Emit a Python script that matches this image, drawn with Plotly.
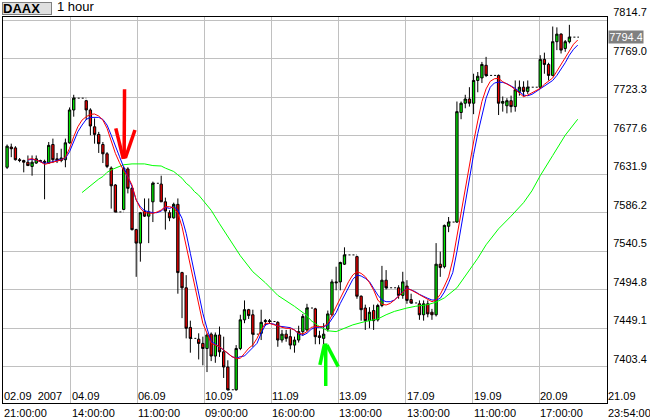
import plotly.graph_objects as go

# ---------------- data ----------------
bar_index = [0, 1, 2, 3, 4, 5, 6, 7, 8, 9, 10, 11, 12, 13, 14, 15, 16,
             19, 20, 21, 22, 23, 24, 25, 26, 28, 29, 30, 31, 32, 33, 34, 35,
             37, 38, 39, 40, 41, 42, 43, 44, 46, 47, 48, 49, 50, 51, 52, 53,
             55, 56, 57, 58, 59, 61, 62, 63, 65, 66, 67, 68, 69, 70, 71, 72,
             74, 75, 76, 77, 78, 79, 80, 81, 84, 85, 86, 87, 88, 89, 90, 91,
             94, 95, 96, 97, 99, 100, 101, 102, 103, 104, 105, 106,
             108, 109, 110, 111, 112, 113, 114, 115,
             118, 119, 120, 121, 122, 123, 124, 125,
             128, 129, 130, 131, 132, 133, 134, 135]
open_ = [7640, 7664, 7663, 7649, 7648, 7646, 7641, 7645, 7648, 7647, 7645, 7667, 7650, 7648, 7649, 7669, 7708,
         7719, 7708, 7688, 7679, 7667, 7656, 7639, 7619, 7590, 7638, 7615, 7566, 7550, 7588, 7582, 7599,
         7620, 7599, 7586, 7580, 7596, 7515, 7497, 7450, 7436, 7431, 7425, 7442, 7416, 7441, 7421, 7403,
         7376, 7425, 7459, 7471, 7465, 7443, 7457, 7458, 7456, 7435, 7442, 7439, 7429, 7435, 7445, 7447,
         7472, 7440, 7437, 7448, 7465, 7504, 7504, 7525, 7534, 7487, 7473, 7458, 7470, 7459, 7476, 7506,
         7497, 7488, 7499, 7483, 7478, 7465, 7478, 7468, 7465, 7525, 7522, 7570,
         7575, 7705, 7716, 7721, 7716, 7743, 7746, 7761,
         7749, 7716, 7713, 7719, 7712, 7730, 7735, 7730,
         7735, 7768, 7762, 7749, 7789, 7798, 7781, 7789]
high = [7667, 7668, 7665, 7651, 7649, 7654, 7654, 7654, 7649, 7649, 7670, 7674, 7657, 7662, 7674, 7711, 7726,
        7720, 7710, 7698, 7682, 7670, 7658, 7641, 7620, 7641, 7640, 7617, 7567, 7587, 7603, 7603, 7623,
        7630, 7604, 7589, 7598, 7603, 7516, 7512, 7458, 7443, 7439, 7443, 7444, 7444, 7451, 7439, 7411,
        7429, 7465, 7482, 7472, 7471, 7471, 7460, 7460, 7457, 7447, 7447, 7448, 7439, 7452, 7466, 7478,
        7473, 7446, 7455, 7470, 7507, 7522, 7528, 7545, 7535, 7488, 7477, 7474, 7477, 7478, 7523, 7518,
        7500, 7516, 7506, 7490, 7482, 7482, 7482, 7472, 7550, 7540, 7572, 7581,
        7718, 7718, 7726, 7735, 7751, 7753, 7765, 7771,
        7750, 7724, 7722, 7725, 7743, 7743, 7742, 7743,
        7773, 7776, 7764, 7807, 7806, 7799, 7791, 7809]
low = [7638, 7652, 7648, 7646, 7634, 7642, 7630, 7644, 7646, 7602, 7644, 7645, 7645, 7646, 7640, 7668, 7700,
       7696, 7678, 7668, 7657, 7645, 7639, 7591, 7587, 7589, 7609, 7565, 7510, 7528, 7581, 7550, 7575,
       7599, 7566, 7576, 7579, 7490, 7461, 7437, 7420, 7412, 7405, 7397, 7410, 7408, 7415, 7390, 7375,
       7375, 7423, 7455, 7460, 7427, 7435, 7452, 7454, 7427, 7432, 7433, 7424, 7420, 7432, 7440, 7445,
       7430, 7430, 7430, 7445, 7463, 7494, 7494, 7524, 7484, 7458, 7447, 7449, 7447, 7457, 7474, 7495,
       7484, 7484, 7478, 7478, 7459, 7458, 7462, 7459, 7463, 7510, 7520, 7563,
       7574, 7697, 7710, 7712, 7703, 7729, 7740, 7747,
       7702, 7706, 7704, 7705, 7706, 7725, 7724, 7727,
       7733, 7751, 7743, 7748, 7779, 7775, 7777, 7787]
close = [7665, 7662, 7649, 7648, 7646, 7642, 7646, 7650, 7647, 7646, 7666, 7649, 7648, 7651, 7669, 7708, 7722,
         7708, 7689, 7679, 7668, 7656, 7641, 7618, 7587, 7639, 7615, 7566, 7550, 7586, 7582, 7587, 7621,
         7599, 7588, 7580, 7596, 7515, 7497, 7449, 7437, 7431, 7425, 7441, 7416, 7441, 7421, 7403, 7376,
         7425, 7459, 7471, 7464, 7442, 7456, 7458, 7457, 7435, 7442, 7437, 7429, 7435, 7445, 7463, 7473,
         7439, 7438, 7442, 7466, 7504, 7503, 7527, 7536, 7487, 7471, 7458, 7468, 7458, 7476, 7506, 7497,
         7488, 7504, 7482, 7479, 7465, 7478, 7466, 7465, 7525, 7521, 7571, 7575,
         7706, 7716, 7721, 7716, 7743, 7748, 7762, 7749,
         7716, 7718, 7719, 7712, 7732, 7735, 7730, 7735,
         7768, 7762, 7749, 7789, 7798, 7779, 7789, 7794.4]

# short moving averages (red = faster, blue = slower), one value per bar slot
ma_index = list(range(5, 138))
ma_red = [7649.4, 7650.2, 7648.6, 7646.6, 7643.4, 7644.6, 7645.8, 7647.4, 7648.6, 7651.8,
          7662.4, 7676.3, 7688.1, 7696.0, 7700.0, 7702.8, 7703.2, 7700.8, 7696.0, 7686.2,
          7672.3, 7656.5, 7645.4, 7635.9, 7628.8, 7618.9, 7601.1, 7591.2, 7586.1, 7585.3,
          7585.3, 7586.9, 7589.3, 7593.2, 7593.2, 7592.0, 7585.3, 7569.5, 7545.8, 7522.0,
          7498.3, 7474.6, 7454.8, 7443.0, 7431.1, 7429.1, 7427.1, 7423.2, 7419.2, 7415.3,
          7413.3, 7413.3, 7419.2, 7425.2, 7429.1, 7437.0, 7446.9, 7454.8, 7454.8, 7452.8,
          7451.7, 7450.1, 7448.9, 7448.9, 7446.9, 7443.0, 7442.2, 7444.9, 7450.1, 7450.9,
          7450.9, 7450.9, 7454.8, 7464.7, 7474.6, 7486.4, 7494.4, 7504.3, 7512.2, 7516.1,
          7514.1, 7510.2, 7503.1, 7494.4, 7482.5, 7477.4, 7476.6, 7478.5, 7482.5, 7487.3,
          7492.0, 7496.0, 7494.4, 7491.6, 7488.4, 7486.1, 7483.7, 7480.5, 7482.5, 7489.2,
          7499.0, 7510.0, 7530.0, 7558.0, 7588.0, 7618.0, 7646.0, 7670.0, 7695.0, 7718.0,
          7733.0, 7742.0, 7745.0, 7745.5, 7741.5, 7739.2, 7736.0, 7732.1, 7727.3, 7723.7,
          7725.7, 7728.1, 7730.5, 7733.6, 7738.4, 7742.0, 7746.0, 7754.0, 7762.0, 7770.0,
          7779.0, 7786.0, 7791.0]
ma_blue = [7648.6, 7649.4, 7648.6, 7646.6, 7644.6, 7645.4, 7646.6, 7647.4, 7648.6, 7650.6,
           7658.5, 7670.3, 7682.2, 7690.1, 7696.8, 7699.2, 7699.2, 7699.2, 7696.8, 7690.1,
           7678.2, 7664.4, 7652.5, 7639.9, 7628.8, 7617.0, 7601.1, 7593.2, 7588.5, 7587.3,
           7586.1, 7586.1, 7588.1, 7592.4, 7591.2, 7593.2, 7589.3, 7579.4, 7561.6, 7537.9,
           7514.1, 7490.4, 7466.7, 7448.9, 7433.1, 7430.3, 7427.1, 7423.2, 7419.2, 7415.3,
           7413.3, 7415.3, 7416.1, 7421.2, 7425.2, 7431.1, 7442.9, 7452.8, 7454.8, 7454.0,
           7451.7, 7450.9, 7450.1, 7449.7, 7446.9, 7442.2, 7440.6, 7443.0, 7447.7, 7450.1,
           7450.1, 7450.9, 7452.8, 7460.7, 7467.5, 7478.5, 7488.4, 7498.3, 7507.0, 7512.2,
           7511.0, 7508.2, 7504.3, 7496.3, 7488.4, 7482.5, 7480.5, 7480.5, 7482.5, 7487.3,
           7492.5, 7496.7, 7494.4, 7492.4, 7489.2, 7486.5, 7484.5, 7482.5, 7482.5, 7484.5,
           7492.0, 7503.0, 7515.0, 7540.0, 7570.0, 7600.0, 7630.0, 7655.0, 7680.0, 7703.0,
           7722.0, 7735.0, 7740.0, 7741.0, 7740.7, 7739.2, 7736.4, 7733.6, 7729.7, 7725.7,
           7724.9, 7726.5, 7729.7, 7732.8, 7736.8, 7740.0, 7743.0, 7749.0, 7756.0, 7764.0,
           7773.0, 7780.0, 7785.0]

# long moving average (green), sampled along the curve
ma_green_index = [18, 19, 20, 21, 22, 23, 24, 25, 26, 27, 28, 30, 33, 35, 37, 38, 39, 40, 41, 42,
                  43, 44, 45, 46, 47, 48, 49, 51, 53, 56, 59, 62, 65, 69, 72, 73, 75, 77, 79, 81,
                  83, 86, 89, 91, 93, 96, 98, 101, 103, 105, 108, 110, 113, 115, 118, 121, 124,
                  126, 128, 131, 134, 137]
ma_green = [7610, 7614, 7618, 7623, 7626, 7629, 7634, 7637, 7639, 7641, 7643, 7644, 7644, 7642,
            7641.5, 7639, 7637, 7635, 7631, 7627, 7621, 7617, 7611, 7607, 7601, 7595, 7589, 7573,
            7558, 7535, 7516, 7503, 7488, 7475, 7464, 7458, 7451, 7446, 7445, 7449, 7453, 7457,
            7460, 7465, 7469, 7473, 7475, 7477, 7480, 7485, 7497, 7511, 7532, 7548, 7567, 7582,
            7598, 7612, 7630, 7654, 7678, 7697]

price_ticks = [7403.4, 7449.1, 7494.8, 7540.5, 7586.2, 7631.9, 7677.6, 7723.3, 7769.0, 7814.7]
date_labels = ["02.09\u00a0\u00a02007", "04.09", "06.09", "10.09", "11.09", "13.09",
               "17.09", "19.09", "20.09", "21.09"]
time_labels = ["21:00:00", "14:00:00", "11:00:00", "09:00:00", "16:00:00", "13:00:00",
               "13:00:00", "11:00:00", "17:00:00", "23:54:00"]
last_price = 7794.4

# ---------------- layout constants ----------------
X_RANGE = [-0.98, 144.03]
Y_RANGE = [7360.3, 7818.3]
GRID_X = [15.27, 31.26, 47.35, 63.43, 79.52, 95.70, 111.78, 127.77]
LABEL_X = [X_RANGE[0]] + GRID_X + [X_RANGE[1]]
DASH_END = 137.3
FONT = "Liberation Sans, Arial, sans-serif"
GRID = "#c0c0c0"

fig = go.Figure()

fig.add_trace(go.Candlestick(
    x=bar_index, open=open_, high=high, low=low, close=close,
    increasing=dict(line=dict(color="black", width=1), fillcolor="#00e600"),
    decreasing=dict(line=dict(color="black", width=1), fillcolor="#ee0000"),
    whiskerwidth=0, showlegend=False, hoverinfo="skip"))

# dashed connectors across missing bars, and from the last bar to the right
dash_x, dash_y = [], []
for k in range(len(bar_index) - 1):
    if bar_index[k + 1] - bar_index[k] > 1:
        dash_x += [bar_index[k], bar_index[k + 1], None]
        dash_y += [close[k], close[k], None]
dash_x += [bar_index[-1], DASH_END, None]
dash_y += [close[-1], close[-1], None]
fig.add_trace(go.Scatter(x=dash_x, y=dash_y, mode="lines",
                         line=dict(color="black", width=1, dash="2px,2px"),
                         showlegend=False, hoverinfo="skip"))

fig.add_trace(go.Scatter(x=ma_green_index, y=ma_green, mode="lines",
                         line=dict(color="#00ff00", width=1), showlegend=False, hoverinfo="skip"))
fig.add_trace(go.Scatter(x=ma_index, y=ma_blue, mode="lines",
                         line=dict(color="#0000ff", width=1), showlegend=False, hoverinfo="skip"))
fig.add_trace(go.Scatter(x=ma_index, y=ma_red, mode="lines",
                         line=dict(color="#ff0000", width=1), showlegend=False, hoverinfo="skip"))

# hand-drawn signal arrows
def arrow(segments, color):
    for (x0, y0), (x1, y1) in segments:
        fig.add_shape(type="line", xref="x", yref="y", x0=x0, y0=y0, x1=x1, y1=y1,
                      line=dict(color=color, width=3.5))

arrow([((28.2, 7732.5), (28.1, 7650)),
       ((26.1, 7686.2), (27.9, 7650)),
       ((30.7, 7684.2), (28.4, 7651))], "#ff0000")
arrow([((76.5, 7380.5), (76.5, 7431)),
       ((75.1, 7405.4), (76.2, 7430)),
       ((79.5, 7403.4), (76.8, 7429))], "#00ff00")

annotations = []
for xv, d, t in zip(LABEL_X, date_labels, time_labels):
    annotations.append(dict(x=xv, y=0, xref="x", yref="paper", text=d, showarrow=False,
                            xanchor="left", yanchor="middle", yshift=7, xshift=-1,
                            font=dict(family=FONT, size=11, color="black")))
    annotations.append(dict(x=xv, y=0, xref="x", yref="paper", text=t, showarrow=False,
                            xanchor="left", yanchor="middle", yshift=-10, xshift=-1,
                            font=dict(family=FONT, size=11, color="black")))

annotations.append(dict(x=0, y=1, xref="paper", yref="paper", text="<b>DAAX</b>",
                        showarrow=False, xanchor="left", yanchor="bottom", xshift=-1, yshift=2,
                        width=48, height=11, align="left", borderpad=0, borderwidth=1,
                        bordercolor="#808080", bgcolor="#e0e0e0",
                        font=dict(family=FONT, size=13, color="black")))
annotations.append(dict(x=0, y=1, xref="paper", yref="paper", text="1 hour",
                        showarrow=False, xanchor="left", yanchor="bottom", xshift=52, yshift=1,
                        font=dict(family=FONT, size=13, color="black")))
annotations.append(dict(x=1, y=last_price, xref="paper", yref="y", text=f"{last_price:.1f}",
                        showarrow=False, xanchor="left", yanchor="middle", xshift=1,
                        width=33, height=11, borderpad=0.5, bgcolor="#808080",
                        font=dict(family=FONT, size=11, color="white")))

fig.update_layout(
    width=650, height=420,
    margin=dict(l=3, r=43, t=17, b=17),
    paper_bgcolor="white", plot_bgcolor="white",
    showlegend=False, boxgap=0.2,
    font=dict(family=FONT, size=11, color="black"),
    annotations=annotations,
    xaxis=dict(range=X_RANGE, tickvals=GRID_X, showticklabels=False, ticks="",
               showgrid=True, gridcolor=GRID, gridwidth=1, zeroline=False,
               showline=True, linecolor="black", linewidth=1, mirror=True,
               rangeslider=dict(visible=False), fixedrange=True),
    yaxis=dict(range=Y_RANGE, side="right", tickvals=price_ticks,
               ticktext=[f"{v:.1f}" for v in price_ticks], ticks="",
               ticklabelposition="outside top", ticklabelstandoff=3,
               tickfont=dict(family=FONT, size=11, color="black"),
               showgrid=True, gridcolor=GRID, gridwidth=1, zeroline=False,
               showline=True, linecolor="black", linewidth=1, mirror=True, fixedrange=True),
)

fig.write_html("out.html", config={"displayModeBar": False},
               post_script="document.body.style.margin='0';")
